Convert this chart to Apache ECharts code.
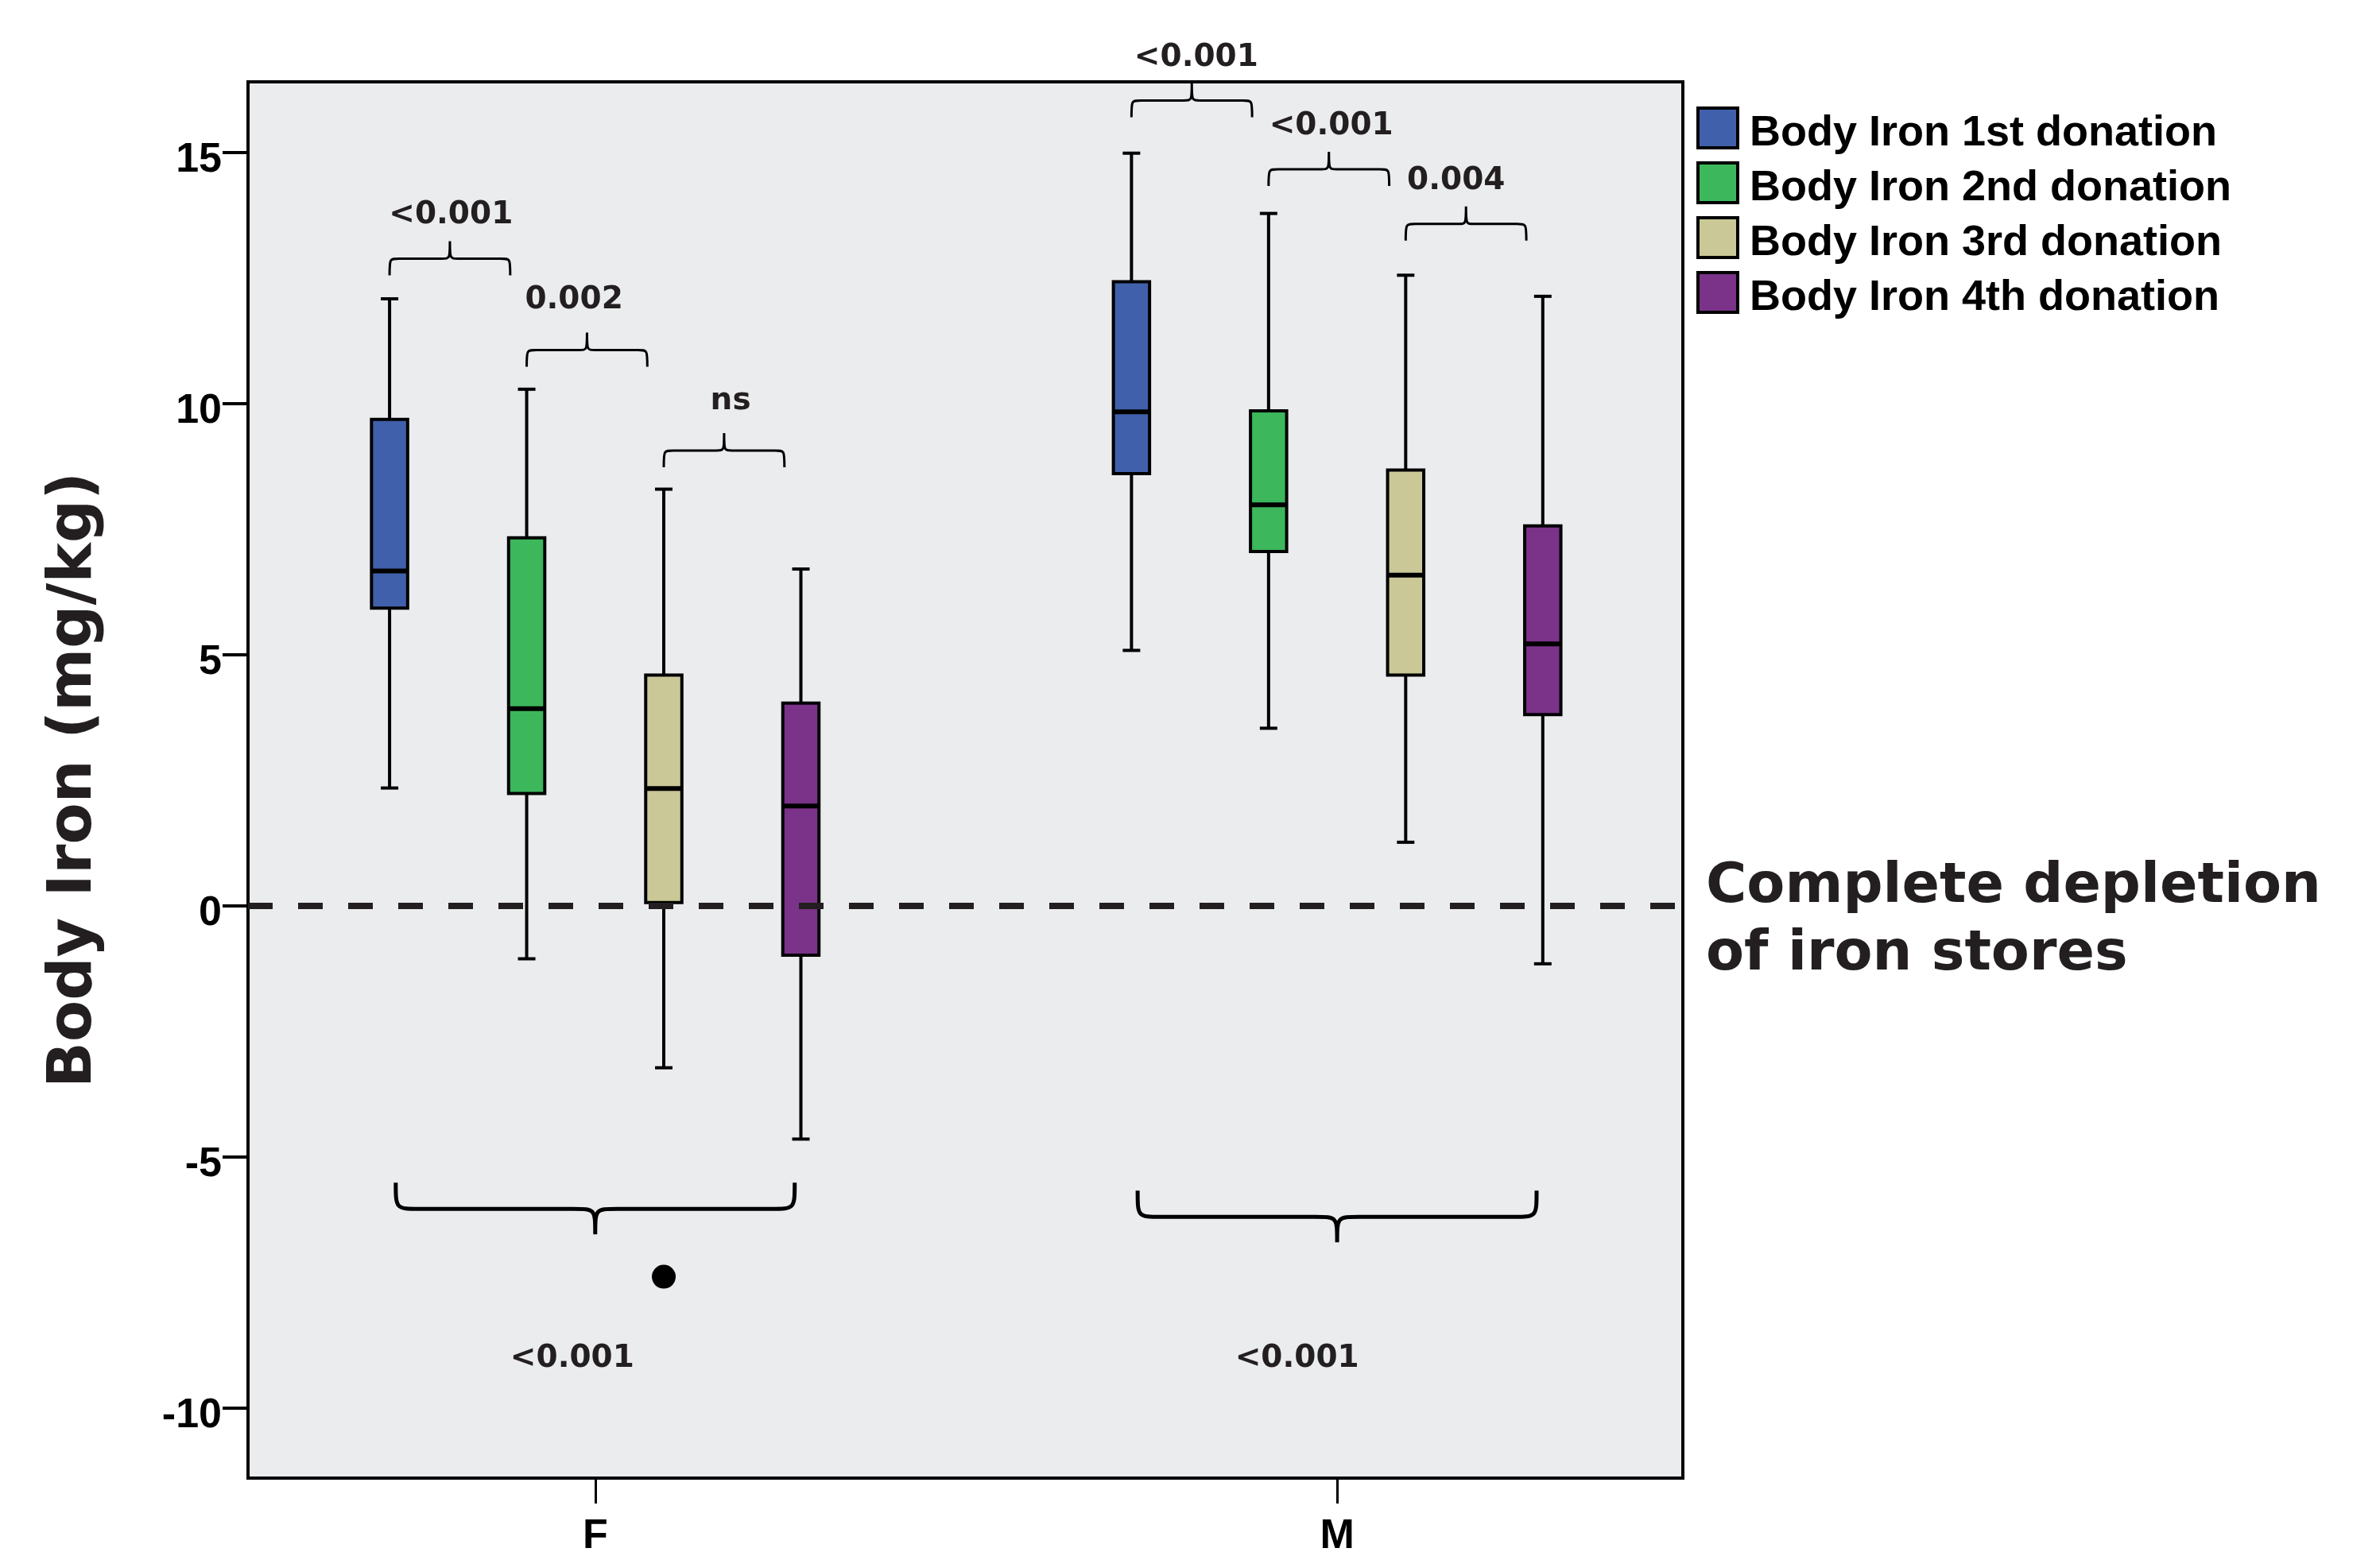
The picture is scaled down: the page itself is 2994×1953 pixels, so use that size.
<!DOCTYPE html>
<html><head><meta charset="utf-8">
<script src="https://cdn.jsdelivr.net/npm/echarts@6/dist/echarts.min.js"></script>
<style>html,body{margin:0;padding:0;background:#fff}#chart{width:2994px;height:1953px}</style>
</head><body><div id="chart"></div>
<script>
// ---------- data ----------
const categories = ['F', 'M'];
const seriesNames = ['Body Iron 1st donation', 'Body Iron 2nd donation', 'Body Iron 3rd donation', 'Body Iron 4th donation'];
// [min, Q1, median, Q3, max] for F, M
const donation1 = [[2.34, 5.92, 6.66, 9.68, 12.08], [5.08, 8.60, 9.83, 12.42, 14.98]];
const donation2 = [[-1.06, 2.23, 3.92, 7.32, 10.28], [3.53, 7.05, 7.98, 9.85, 13.78]];
const donation3 = [[-3.23, 0.06, 2.33, 4.59, 8.29], [1.26, 4.59, 6.58, 8.67, 12.55]];
const donation4 = [[-4.65, -0.99, 1.98, 4.03, 6.70], [-1.16, 3.80, 5.21, 7.56, 12.13]];
const outliers = [[0, 2, -7.39]];            // [category, donation, value]
const yTicks = [-10, -5, 0, 5, 10, 15];
// pairwise comparisons: [category, from donation, to donation, bracket level, label x, label y]
const pairBrackets = [
  [0, 0, 1, 12.88, 0.8055, 13.75], [0, 1, 2, 11.06, 0.9714, 12.05], [0, 2, 3, 9.06, 1.1825, 10.04],
  [1, 0, 1, 16.03, 1.8101, 16.88], [1, 1, 2, 14.66, 1.9921, 15.51], [1, 2, 3, 13.57, 2.1604, 14.42]
];
const pairLabels = ['<0.001', '0.002', 'ns', '<0.001', '<0.001', '0.004'];
// overall comparisons: [category, bracket level, label x, label y]
const groupBrackets = [[0, -6.04, 0.969, -9.02], [1, -6.20, 1.946, -9.02]];
const groupLabels = ['<0.001', '<0.001'];
const depletionLevel = 0;
const depletionText = 'Complete depletion\nof iron stores';

// ---------- layout / style ----------
const colors = ['#4160ab', '#3cb75b', '#c9c896', '#7b3289'];
const X_MIN = 0.532, X_MAX = 2.466, Y_MIN = -11.40, Y_MAX = 16.40;
const BOX_STEP = 0.1848;
const TXT = '#231f20';
const ANNOT_FONT = 'bold 39px "DejaVu Sans"';
const allDonations = [donation1, donation2, donation3, donation4];

function boxX(cat, s) { return cat + 1 + (s - 1.5) * BOX_STEP; }

function boxRender(sIdx) {
  return function (params, api) {
    const cat = api.value(0);
    const x = boxX(cat, sIdx);
    const pMin = api.coord([x, api.value(1)]);
    const pQ1 = api.coord([x, api.value(2)]);
    const pMed = api.coord([x, api.value(3)]);
    const pQ3 = api.coord([x, api.value(4)]);
    const pMax = api.coord([x, api.value(5)]);
    const cx = pMed[0], hw = 22.75, cw = 11;
    const ls = { stroke: '#000', lineWidth: 4 };
    return { type: 'group', children: [
      { type: 'line', shape: { x1: cx, y1: pQ3[1], x2: cx, y2: pMax[1] }, style: ls },
      { type: 'line', shape: { x1: cx, y1: pQ1[1], x2: cx, y2: pMin[1] }, style: ls },
      { type: 'line', shape: { x1: cx - cw, y1: pMax[1], x2: cx + cw, y2: pMax[1] }, style: ls },
      { type: 'line', shape: { x1: cx - cw, y1: pMin[1], x2: cx + cw, y2: pMin[1] }, style: ls },
      { type: 'rect', shape: { x: cx - hw, y: pQ3[1], width: 2 * hw, height: pQ1[1] - pQ3[1] },
        style: { fill: api.visual('color'), stroke: '#000', lineWidth: 4 } },
      { type: 'line', shape: { x1: cx - hw, y1: pMed[1], x2: cx + hw, y2: pMed[1] }, style: { stroke: '#000', lineWidth: 6 } }
    ] };
  };
}

function bracePath(x0, x1, yBar, dir, endLen, tipLen, cW, tW) {
  const yEnd = yBar - dir * endLen, yTip = yBar + dir * tipLen, xm = (x0 + x1) / 2;
  return 'M' + x0 + ',' + yEnd + ' C' + x0 + ',' + yBar + ' ' + x0 + ',' + yBar + ' ' + (x0 + cW) + ',' + yBar +
    ' L' + (xm - tW) + ',' + yBar + ' C' + xm + ',' + yBar + ' ' + xm + ',' + yBar + ' ' + xm + ',' + yTip +
    ' M' + x1 + ',' + yEnd + ' C' + x1 + ',' + yBar + ' ' + x1 + ',' + yBar + ' ' + (x1 - cW) + ',' + yBar +
    ' L' + (xm + tW) + ',' + yBar + ' C' + xm + ',' + yBar + ' ' + xm + ',' + yBar + ' ' + xm + ',' + yTip;
}

const series = allDonations.map((d, s) => ({
  name: seriesNames[s],
  type: 'custom',
  renderItem: boxRender(s),
  itemStyle: { color: colors[s] },
  encode: { x: 0, y: [1, 2, 3, 4, 5] },
  data: d.map((v, i) => [i].concat(v)),
  z: 2
}));

series.push({
  name: 'pairs', type: 'custom', clip: false, z: 4,
  data: pairBrackets,
  renderItem: function (params, api) {
    const cat = api.value(0), a = api.value(1), b = api.value(2), lvl = api.value(3);
    const p0 = api.coord([boxX(cat, a), lvl]);
    const p1 = api.coord([boxX(cat, b), lvl]);
    const pl = api.coord([api.value(4), api.value(5)]);
    const x0 = p0[0], x1 = x0 + 0.88 * (p1[0] - p0[0]), yb = p0[1];
    return { type: 'group', children: [
      { type: 'path', shape: { pathData: bracePath(x0, x1, yb, -1, 21, 22, 12, 10) },
        style: { stroke: '#000', lineWidth: 3, fill: null } },
      { type: 'text', style: { text: pairLabels[params.dataIndex], x: pl[0], y: pl[1],
        fill: TXT, font: ANNOT_FONT, align: 'center', verticalAlign: 'middle' } }
    ] };
  }
});

series.push({
  name: 'groups', type: 'custom', clip: false, z: 4,
  data: groupBrackets,
  renderItem: function (params, api) {
    const cat = api.value(0), lvl = api.value(1);
    const pa = api.coord([boxX(cat, 0), lvl]);
    const pb = api.coord([boxX(cat, 3), lvl]);
    const pl = api.coord([api.value(2), api.value(3)]);
    const span = pb[0] - pa[0];
    const x0 = pa[0] + 0.015 * span, x1 = pb[0] - 0.015 * span, yb = pa[1];
    return { type: 'group', children: [
      { type: 'path', shape: { pathData: bracePath(x0, x1, yb, 1, 33, 32, 30, 28) },
        style: { stroke: '#000', lineWidth: 5, fill: null } },
      { type: 'text', style: { text: groupLabels[params.dataIndex], x: pl[0], y: pl[1],
        fill: TXT, font: ANNOT_FONT, align: 'center', verticalAlign: 'middle' } }
    ] };
  }
});

series.push({
  name: 'outliers', type: 'custom', clip: false, z: 3,
  data: outliers,
  renderItem: function (params, api) {
    const p = api.coord([boxX(api.value(0), api.value(1)), api.value(2)]);
    return { type: 'circle', shape: { cx: p[0], cy: p[1], r: 15 }, style: { fill: '#000' } };
  }
});

series.push({
  name: 'depletion', type: 'custom', clip: false, z: 5,
  data: [[depletionLevel]],
  renderItem: function (params, api) {
    const p = api.coord([X_MAX, api.value(0)]);
    return { type: 'text', style: { text: depletionText, x: p[0] + 29, y: p[1] + 20, fill: TXT,
      font: 'bold 70px "DejaVu Sans"', lineHeight: 85, align: 'left', verticalAlign: 'middle' } };
  },
  markLine: {
    silent: true, symbol: ['none', 'none'], label: { show: false }, z: 6,
    lineStyle: { type: [31, 32], width: 8, color: TXT },
    data: [{ yAxis: depletionLevel }]
  }
});

const chart = echarts.init(document.getElementById('chart'));
chart.setOption({
  animation: false,
  backgroundColor: '#ffffff',
  grid: { left: 312, top: 103, width: 1805, height: 1757, show: true, backgroundColor: '#ebecee',
    borderColor: '#000', borderWidth: 4, containLabel: false, outerBoundsMode: 'none' },
  legend: {
    data: seriesNames, orient: 'vertical', left: 2134, top: 127, padding: 0,
    itemWidth: 50, itemHeight: 50, itemGap: 1, icon: 'rect',
    itemStyle: { borderColor: '#000', borderWidth: 4 },
    formatter: '{t|{name}}',
    textStyle: { fontSize: 54, fontWeight: 'bold', fontFamily: 'Liberation Sans', color: '#000',
      padding: [0, 0, 0, 10], lineHeight: 51,
      rich: { t: { fontSize: 54, fontWeight: 'bold', fontFamily: 'Liberation Sans', color: '#000',
        padding: [14, 0, 0, 0], lineHeight: 51 } } }
  },
  xAxis: {
    type: 'value', min: X_MIN, max: X_MAX,
    axisLine: { show: false, onZero: false }, splitLine: { show: false },
    axisTick: { show: true, length: 32, customValues: [1, 2], lineStyle: { width: 3, color: '#000' } },
    axisLabel: { customValues: [1, 2], margin: 48, fontSize: 52, fontWeight: 'bold', fontFamily: 'Liberation Sans',
      color: '#000', formatter: v => categories[Math.round(v) - 1] }
  },
  yAxis: {
    type: 'value', min: Y_MIN, max: Y_MAX,
    name: 'Body Iron (mg/kg)', nameLocation: 'middle', nameRotate: 90, nameGap: 180,
    nameTextStyle: { fontSize: 76, fontWeight: 'bold', fontFamily: 'DejaVu Sans', color: TXT },
    axisLine: { show: false }, splitLine: { show: false },
    axisTick: { show: true, length: 32, customValues: yTicks, lineStyle: { width: 4, color: '#000' } },
    axisLabel: { customValues: yTicks, margin: 33, fontSize: 52, fontWeight: 'bold', fontFamily: 'Liberation Sans',
      color: '#000', verticalAlign: 'top', lineHeight: 20 }
  },
  series: series
});
</script></body></html>
